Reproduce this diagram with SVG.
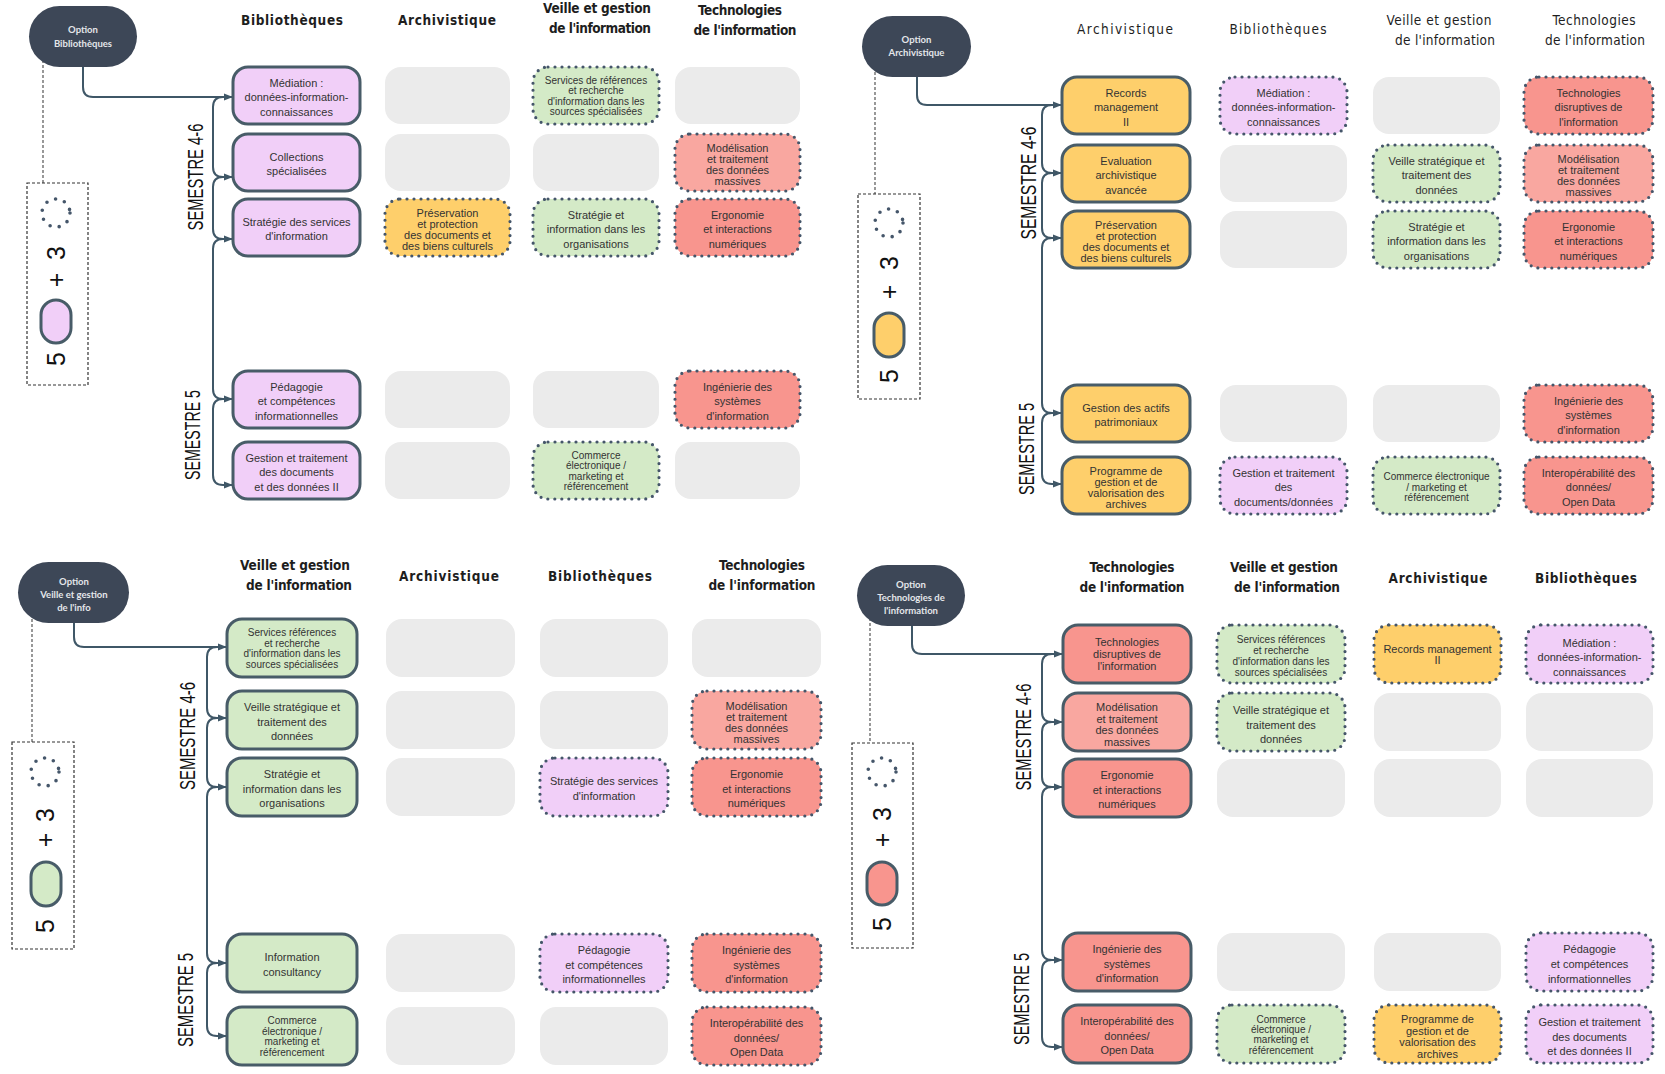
<svg xmlns="http://www.w3.org/2000/svg" width="1665" height="1074" viewBox="0 0 1665 1074">
<defs>
<marker id="ah" viewBox="0 0 10 10" refX="9" refY="5" markerWidth="9" markerHeight="9" markerUnits="userSpaceOnUse" orient="auto"><path d="M0,1 L10,5 L0,9 z" fill="#3f5767"/></marker>
<style>
.opt{fill:#3d4757}
.ot{font-family:Lato,'Open Sans',sans-serif;font-weight:700;font-size:9.5px;fill:#e4e6ea;text-anchor:middle}
.m{stroke:#485c68;stroke-width:3}
.d{stroke:#45566a;stroke-width:3.2;stroke-dasharray:0 7;stroke-linecap:round}
.e{fill:#ebebeb}
.pk{fill:#f1cff8}
.or{fill:#fecf6b}
.gr{fill:#d4eac7}
.rd{fill:#f8958e}
.rl{fill:#f9a7a0}
.t{font-family:'Liberation Sans',Arial,sans-serif;font-size:11px;fill:#333;text-anchor:middle}
.s{font-size:10px}
.h{font-family:'Liberation Sans Narrow','DejaVu Sans Condensed','Liberation Sans',sans-serif;font-size:13.5px;font-weight:700;fill:#1e1e1e;text-anchor:middle}
.hn{font-weight:400}
.sem{font-family:'Liberation Sans',Arial,sans-serif;font-size:22px;fill:#111;text-anchor:middle;dominant-baseline:central}
.lg{font-family:'Liberation Sans',Arial,sans-serif;font-size:25px;fill:#111;text-anchor:middle;dominant-baseline:central}
.lb{fill:none;stroke:#333;stroke-width:1.2;stroke-dasharray:3 2}
.dc{fill:none;stroke:#45566a;stroke-width:3.6;stroke-dasharray:0 9.3;stroke-linecap:round}
.cn{fill:none;stroke:#3f5767;stroke-width:2;marker-end:url(#ah)}
.dl{fill:none;stroke:#555;stroke-width:1.2;stroke-dasharray:3 2}
</style>
</defs>
<rect width="1665" height="1074" fill="#ffffff"/>

<!-- ================= Q1 : Option Bibliothèques ================= -->
<g id="q1-headers">
<text class="h" x="292" y="25" textLength="102" lengthAdjust="spacing">Bibliothèques</text>
<text class="h" x="447" y="25" textLength="98" lengthAdjust="spacing">Archivistique</text>
<text class="h" x="597" y="13" textLength="108" lengthAdjust="spacing">Veille et gestion</text>
<text class="h" x="600" y="33" textLength="102" lengthAdjust="spacing">de l'information</text>
<text class="h" x="740" y="14.5" textLength="84" lengthAdjust="spacing">Technologies</text>
<text class="h" x="745" y="35" textLength="103" lengthAdjust="spacing">de l'information</text>
</g>
<g id="q1-semesters">
<text class="sem" transform="translate(195,177) rotate(-90)" textLength="107" lengthAdjust="spacingAndGlyphs">SEMESTRE 4-6</text>
<text class="sem" transform="translate(192,435) rotate(-90)" textLength="90" lengthAdjust="spacingAndGlyphs">SEMESTRE 5</text>
</g>
<g id="q1-connectors">
<path class="dl" d="M43,60 V183"/>
<path class="cn" d="M83,67 V87 Q83,97 93,97 H232"/>
<path class="cn" d="M223,97 Q213,97 213,107 V167 Q213,177 223,177 H232"/>
<path class="cn" d="M223,177 Q213,177 213,187 V229 Q213,239 223,239 H232"/>
<path class="cn" d="M223,239 Q213,239 213,249 V389 Q213,399 223,399 H232"/>
<path class="cn" d="M223,399 Q213,399 213,409 V475 Q213,485 223,485 H232"/>
</g>
<g id="q1-option"><rect class="opt" x="29" y="6" width="108" height="61" rx="30.5"/><text class="ot"><tspan x="83" y="33">Option</tspan><tspan x="83" y="47">Bibliothèques</tspan></text></g>
<g id="q1-legend">
<rect class="lb" x="27" y="183" width="61" height="202"/>
<circle class="dc" cx="56" cy="213" r="14"/>
<text class="lg" transform="translate(56,253) rotate(-90)">3</text>
<text class="lg" transform="translate(56,280) rotate(-90)">+</text>
<rect class="pk m" x="41" y="300" width="30" height="43" rx="15"/>
<text class="lg" transform="translate(56,359) rotate(-90)">5</text>
</g>
<g id="q1-m1"><rect class="pk m" x="233" y="67" width="127" height="57" rx="15"/><text class="t"><tspan x="296.5" y="86.5">Médiation :</tspan><tspan x="296.5" y="101">données-information-</tspan><tspan x="296.5" y="115.5">connaissances</tspan></text></g>
<g id="q1-m2"><rect class="pk m" x="233" y="134" width="127" height="57" rx="15"/><text class="t"><tspan x="296.5" y="160.5">Collections</tspan><tspan x="296.5" y="175">spécialisées</tspan></text></g>
<g id="q1-m3"><rect class="pk m" x="233" y="199" width="127" height="57" rx="15"/><text class="t"><tspan x="296.5" y="225.5">Stratégie des services</tspan><tspan x="296.5" y="240">d'information</tspan></text></g>
<g id="q1-m4"><rect class="pk m" x="233" y="371" width="127" height="57" rx="15"/><text class="t"><tspan x="296.5" y="390.5">Pédagogie</tspan><tspan x="296.5" y="405">et compétences</tspan><tspan x="296.5" y="419.5">informationnelles</tspan></text></g>
<g id="q1-m5"><rect class="pk m" x="233" y="442" width="127" height="57" rx="15"/><text class="t"><tspan x="296.5" y="461.5">Gestion et traitement</tspan><tspan x="296.5" y="476">des documents</tspan><tspan x="296.5" y="490.5">et des données II</tspan></text></g>
<g id="q1-r1c2"><rect class="e" x="385" y="67" width="125" height="57" rx="16"/></g>
<g id="q1-r1c3"><rect class="gr d" x="533" y="67" width="126" height="57" rx="15"/><text class="t s"><tspan x="596" y="83.5">Services de références</tspan><tspan x="596" y="94">et recherche</tspan><tspan x="596" y="104.5">d'information dans les</tspan><tspan x="596" y="115">sources spécialisées</tspan></text></g>
<g id="q1-r1c4"><rect class="e" x="675" y="67" width="125" height="57" rx="16"/></g>
<g id="q1-r2c2"><rect class="e" x="385" y="134" width="125" height="57" rx="16"/></g>
<g id="q1-r2c3"><rect class="e" x="533" y="134" width="126" height="57" rx="16"/></g>
<g id="q1-r2c4"><rect class="rl d" x="675" y="134" width="125" height="57" rx="15"/><text class="t"><tspan x="737.5" y="151.5">Modélisation</tspan><tspan x="737.5" y="162.5">et traitement</tspan><tspan x="737.5" y="173.5">des données</tspan><tspan x="737.5" y="184.5">massives</tspan></text></g>
<g id="q1-r3c2"><rect class="or d" x="385" y="199" width="125" height="57" rx="15"/><text class="t"><tspan x="447.5" y="216.5">Préservation</tspan><tspan x="447.5" y="227.5">et protection</tspan><tspan x="447.5" y="238.5">des documents et</tspan><tspan x="447.5" y="249.5">des biens culturels</tspan></text></g>
<g id="q1-r3c3"><rect class="gr d" x="533" y="199" width="126" height="57" rx="15"/><text class="t"><tspan x="596" y="218.5">Stratégie et</tspan><tspan x="596" y="233">information dans les</tspan><tspan x="596" y="247.5">organisations</tspan></text></g>
<g id="q1-r3c4"><rect class="rd d" x="675" y="199" width="125" height="57" rx="15"/><text class="t"><tspan x="737.5" y="218.5">Ergonomie</tspan><tspan x="737.5" y="233">et interactions</tspan><tspan x="737.5" y="247.5">numériques</tspan></text></g>
<g id="q1-r4c2"><rect class="e" x="385" y="371" width="125" height="57" rx="16"/></g>
<g id="q1-r4c3"><rect class="e" x="533" y="371" width="126" height="57" rx="16"/></g>
<g id="q1-r4c4"><rect class="rd d" x="675" y="371" width="125" height="57" rx="15"/><text class="t"><tspan x="737.5" y="390.5">Ingénierie des</tspan><tspan x="737.5" y="405">systèmes</tspan><tspan x="737.5" y="419.5">d'information</tspan></text></g>
<g id="q1-r5c2"><rect class="e" x="385" y="442" width="125" height="57" rx="16"/></g>
<g id="q1-r5c3"><rect class="gr d" x="533" y="442" width="126" height="57" rx="15"/><text class="t s"><tspan x="596" y="458.5">Commerce</tspan><tspan x="596" y="469">électronique /</tspan><tspan x="596" y="479.5">marketing et</tspan><tspan x="596" y="490">référencement</tspan></text></g>
<g id="q1-r5c4"><rect class="e" x="675" y="442" width="125" height="57" rx="16"/></g>

<!-- ================= Q2 : Option Archivistique ================= -->
<g id="q2-headers">
<text class="h hn" x="1125" y="34" textLength="96" lengthAdjust="spacing">Archivistique</text>
<text class="h hn" x="1278" y="34" textLength="97" lengthAdjust="spacing">Bibliothèques</text>
<text class="h hn" x="1439" y="25" textLength="105" lengthAdjust="spacing">Veille et gestion</text>
<text class="h hn" x="1445" y="45" textLength="100" lengthAdjust="spacing">de l'information</text>
<text class="h hn" x="1594" y="25" textLength="83" lengthAdjust="spacing">Technologies</text>
<text class="h hn" x="1595" y="45" textLength="100" lengthAdjust="spacing">de l'information</text>
</g>
<g id="q2-semesters">
<text class="sem" transform="translate(1028,183) rotate(-90)" textLength="113" lengthAdjust="spacingAndGlyphs">SEMESTRE 4-6</text>
<text class="sem" transform="translate(1026,449) rotate(-90)" textLength="92" lengthAdjust="spacingAndGlyphs">SEMESTRE 5</text>
</g>
<g id="q2-connectors">
<path class="dl" d="M875,72 V194"/>
<path class="cn" d="M917,77 V95 Q917,105 927,105 H1061"/>
<path class="cn" d="M1052,105 Q1042,105 1042,115 V163 Q1042,173 1052,173 H1061"/>
<path class="cn" d="M1052,173 Q1042,173 1042,183 V228 Q1042,238 1052,238 H1061"/>
<path class="cn" d="M1052,238 Q1042,238 1042,248 V403 Q1042,413 1052,413 H1061"/>
<path class="cn" d="M1052,413 Q1042,413 1042,423 V474 Q1042,484 1052,484 H1061"/>
</g>
<g id="q2-option"><rect class="opt" x="862" y="16" width="109" height="61" rx="30.5"/><text class="ot"><tspan x="916.5" y="43">Option</tspan><tspan x="916.5" y="56">Archivistique</tspan></text></g>
<g id="q2-legend">
<rect class="lb" x="858" y="194" width="62" height="205"/>
<circle class="dc" cx="889" cy="223" r="14"/>
<text class="lg" transform="translate(889,263) rotate(-90)">3</text>
<text class="lg" transform="translate(889,292) rotate(-90)">+</text>
<rect class="or m" x="874" y="313" width="30" height="44" rx="15"/>
<text class="lg" transform="translate(889,376) rotate(-90)">5</text>
</g>
<g id="q2-m1"><rect class="or m" x="1062" y="77" width="128" height="57" rx="15"/><text class="t"><tspan x="1126" y="96.5">Records</tspan><tspan x="1126" y="111">management</tspan><tspan x="1126" y="125.5">II</tspan></text></g>
<g id="q2-m2"><rect class="or m" x="1062" y="145" width="128" height="57" rx="15"/><text class="t"><tspan x="1126" y="164.5">Evaluation</tspan><tspan x="1126" y="179">archivistique</tspan><tspan x="1126" y="193.5">avancée</tspan></text></g>
<g id="q2-m3"><rect class="or m" x="1062" y="211" width="128" height="57" rx="15"/><text class="t"><tspan x="1126" y="228.5">Préservation</tspan><tspan x="1126" y="239.5">et protection</tspan><tspan x="1126" y="250.5">des documents et</tspan><tspan x="1126" y="261.5">des biens culturels</tspan></text></g>
<g id="q2-m4"><rect class="or m" x="1062" y="385" width="128" height="57" rx="15"/><text class="t"><tspan x="1126" y="411.5">Gestion des actifs</tspan><tspan x="1126" y="426">patrimoniaux</tspan></text></g>
<g id="q2-m5"><rect class="or m" x="1062" y="457" width="128" height="57" rx="15"/><text class="t"><tspan x="1126" y="474.5">Programme de</tspan><tspan x="1126" y="485.5">gestion et de</tspan><tspan x="1126" y="496.5">valorisation des</tspan><tspan x="1126" y="507.5">archives</tspan></text></g>
<g id="q2-r1c2"><rect class="pk d" x="1220" y="77" width="127" height="57" rx="15"/><text class="t"><tspan x="1283.5" y="96.5">Médiation :</tspan><tspan x="1283.5" y="111">données-information-</tspan><tspan x="1283.5" y="125.5">connaissances</tspan></text></g>
<g id="q2-r1c3"><rect class="e" x="1373" y="77" width="127" height="57" rx="16"/></g>
<g id="q2-r1c4"><rect class="rd d" x="1524" y="77" width="129" height="57" rx="15"/><text class="t"><tspan x="1588.5" y="96.5">Technologies</tspan><tspan x="1588.5" y="111">disruptives de</tspan><tspan x="1588.5" y="125.5">l'information</tspan></text></g>
<g id="q2-r2c2"><rect class="e" x="1220" y="145" width="127" height="57" rx="16"/></g>
<g id="q2-r2c3"><rect class="gr d" x="1373" y="145" width="127" height="57" rx="15"/><text class="t"><tspan x="1436.5" y="164.5">Veille stratégique et</tspan><tspan x="1436.5" y="179">traitement des</tspan><tspan x="1436.5" y="193.5">données</tspan></text></g>
<g id="q2-r2c4"><rect class="rl d" x="1524" y="145" width="129" height="57" rx="15"/><text class="t"><tspan x="1588.5" y="162.5">Modélisation</tspan><tspan x="1588.5" y="173.5">et traitement</tspan><tspan x="1588.5" y="184.5">des données</tspan><tspan x="1588.5" y="195.5">massives</tspan></text></g>
<g id="q2-r3c2"><rect class="e" x="1220" y="211" width="127" height="57" rx="16"/></g>
<g id="q2-r3c3"><rect class="gr d" x="1373" y="211" width="127" height="57" rx="15"/><text class="t"><tspan x="1436.5" y="230.5">Stratégie et</tspan><tspan x="1436.5" y="245">information dans les</tspan><tspan x="1436.5" y="259.5">organisations</tspan></text></g>
<g id="q2-r3c4"><rect class="rd d" x="1524" y="211" width="129" height="57" rx="15"/><text class="t"><tspan x="1588.5" y="230.5">Ergonomie</tspan><tspan x="1588.5" y="245">et interactions</tspan><tspan x="1588.5" y="259.5">numériques</tspan></text></g>
<g id="q2-r4c2"><rect class="e" x="1220" y="385" width="127" height="57" rx="16"/></g>
<g id="q2-r4c3"><rect class="e" x="1373" y="385" width="127" height="57" rx="16"/></g>
<g id="q2-r4c4"><rect class="rd d" x="1524" y="385" width="129" height="57" rx="15"/><text class="t"><tspan x="1588.5" y="404.5">Ingénierie des</tspan><tspan x="1588.5" y="419">systèmes</tspan><tspan x="1588.5" y="433.5">d'information</tspan></text></g>
<g id="q2-r5c2"><rect class="pk d" x="1220" y="457" width="127" height="57" rx="15"/><text class="t"><tspan x="1283.5" y="476.5">Gestion et traitement</tspan><tspan x="1283.5" y="491">des</tspan><tspan x="1283.5" y="505.5">documents/données</tspan></text></g>
<g id="q2-r5c3"><rect class="gr d" x="1373" y="457" width="127" height="57" rx="15"/><text class="t s"><tspan x="1436.5" y="480">Commerce électronique</tspan><tspan x="1436.5" y="490.5">/ marketing et</tspan><tspan x="1436.5" y="501">référencement</tspan></text></g>
<g id="q2-r5c4"><rect class="rd d" x="1524" y="457" width="129" height="57" rx="15"/><text class="t"><tspan x="1588.5" y="476.5">Interopérabilité des</tspan><tspan x="1588.5" y="491">données/</tspan><tspan x="1588.5" y="505.5">Open Data</tspan></text></g>

<!-- ================= Q3 : Option Veille ================= -->
<g id="q3-headers">
<text class="h" x="295" y="570" textLength="110" lengthAdjust="spacing">Veille et gestion</text>
<text class="h" x="299" y="590" textLength="106" lengthAdjust="spacing">de l'information</text>
<text class="h" x="449" y="581" textLength="100" lengthAdjust="spacing">Archivistique</text>
<text class="h" x="600" y="581" textLength="104" lengthAdjust="spacing">Bibliothèques</text>
<text class="h" x="762" y="570" textLength="86" lengthAdjust="spacing">Technologies</text>
<text class="h" x="762" y="590" textLength="107" lengthAdjust="spacing">de l'information</text>
</g>
<g id="q3-semesters">
<text class="sem" transform="translate(187,736) rotate(-90)" textLength="108" lengthAdjust="spacingAndGlyphs">SEMESTRE 4-6</text>
<text class="sem" transform="translate(185,1000) rotate(-90)" textLength="94" lengthAdjust="spacingAndGlyphs">SEMESTRE 5</text>
</g>
<g id="q3-connectors">
<path class="dl" d="M32,614 V742"/>
<path class="cn" d="M74,623 V637 Q74,647 84,647 H226"/>
<path class="cn" d="M217,647 Q207,647 207,657 V708 Q207,718 217,718 H226"/>
<path class="cn" d="M217,718 Q207,718 207,728 V777 Q207,787 217,787 H226"/>
<path class="cn" d="M217,787 Q207,787 207,797 V953 Q207,963 217,963 H226"/>
<path class="cn" d="M217,963 Q207,963 207,973 V1026 Q207,1036 217,1036 H226"/>
</g>
<g id="q3-option"><rect class="opt" x="18" y="562" width="111" height="61" rx="30.5"/><text class="ot"><tspan x="74" y="585">Option</tspan><tspan x="74" y="598">Veille et gestion</tspan><tspan x="74" y="611">de l'info</tspan></text></g>
<g id="q3-legend">
<rect class="lb" x="12" y="742" width="62" height="207"/>
<circle class="dc" cx="45" cy="772" r="14"/>
<text class="lg" transform="translate(45,815) rotate(-90)">3</text>
<text class="lg" transform="translate(45,840) rotate(-90)">+</text>
<rect class="gr m" x="31" y="862" width="30" height="44" rx="15"/>
<text class="lg" transform="translate(45,926) rotate(-90)">5</text>
</g>
<g id="q3-m1"><rect class="gr m" x="227" y="619" width="130" height="58" rx="15"/><text class="t s"><tspan x="292" y="636">Services références</tspan><tspan x="292" y="646.5">et recherche</tspan><tspan x="292" y="657">d'information dans les</tspan><tspan x="292" y="667.5">sources spécialisées</tspan></text></g>
<g id="q3-m2"><rect class="gr m" x="227" y="691" width="130" height="58" rx="15"/><text class="t"><tspan x="292" y="711">Veille stratégique et</tspan><tspan x="292" y="725.5">traitement des</tspan><tspan x="292" y="740">données</tspan></text></g>
<g id="q3-m3"><rect class="gr m" x="227" y="758" width="130" height="58" rx="15"/><text class="t"><tspan x="292" y="778">Stratégie et</tspan><tspan x="292" y="792.5">information dans les</tspan><tspan x="292" y="807">organisations</tspan></text></g>
<g id="q3-m4"><rect class="gr m" x="227" y="934" width="130" height="58" rx="15"/><text class="t"><tspan x="292" y="961">Information</tspan><tspan x="292" y="975.5">consultancy</tspan></text></g>
<g id="q3-m5"><rect class="gr m" x="227" y="1007" width="130" height="58" rx="15"/><text class="t s"><tspan x="292" y="1024">Commerce</tspan><tspan x="292" y="1034.5">électronique /</tspan><tspan x="292" y="1045">marketing et</tspan><tspan x="292" y="1055.5">référencement</tspan></text></g>
<g id="q3-r1c2"><rect class="e" x="386" y="619" width="129" height="58" rx="16"/></g>
<g id="q3-r1c3"><rect class="e" x="540" y="619" width="128" height="58" rx="16"/></g>
<g id="q3-r1c4"><rect class="e" x="692" y="619" width="129" height="58" rx="16"/></g>
<g id="q3-r2c2"><rect class="e" x="386" y="691" width="129" height="58" rx="16"/></g>
<g id="q3-r2c3"><rect class="e" x="540" y="691" width="128" height="58" rx="16"/></g>
<g id="q3-r2c4"><rect class="rl d" x="692" y="691" width="129" height="58" rx="15"/><text class="t"><tspan x="756.5" y="710">Modélisation</tspan><tspan x="756.5" y="721">et traitement</tspan><tspan x="756.5" y="732">des données</tspan><tspan x="756.5" y="743">massives</tspan></text></g>
<g id="q3-r3c2"><rect class="e" x="386" y="758" width="129" height="58" rx="16"/></g>
<g id="q3-r3c3"><rect class="pk d" x="540" y="758" width="128" height="58" rx="15"/><text class="t"><tspan x="604" y="785">Stratégie des services</tspan><tspan x="604" y="799.5">d'information</tspan></text></g>
<g id="q3-r3c4"><rect class="rd d" x="692" y="758" width="129" height="58" rx="15"/><text class="t"><tspan x="756.5" y="778">Ergonomie</tspan><tspan x="756.5" y="792.5">et interactions</tspan><tspan x="756.5" y="807">numériques</tspan></text></g>
<g id="q3-r4c2"><rect class="e" x="386" y="934" width="129" height="58" rx="16"/></g>
<g id="q3-r4c3"><rect class="pk d" x="540" y="934" width="128" height="58" rx="15"/><text class="t"><tspan x="604" y="954">Pédagogie</tspan><tspan x="604" y="968.5">et compétences</tspan><tspan x="604" y="983">informationnelles</tspan></text></g>
<g id="q3-r4c4"><rect class="rd d" x="692" y="934" width="129" height="58" rx="15"/><text class="t"><tspan x="756.5" y="954">Ingénierie des</tspan><tspan x="756.5" y="968.5">systèmes</tspan><tspan x="756.5" y="983">d'information</tspan></text></g>
<g id="q3-r5c2"><rect class="e" x="386" y="1007" width="129" height="58" rx="16"/></g>
<g id="q3-r5c3"><rect class="e" x="540" y="1007" width="128" height="58" rx="16"/></g>
<g id="q3-r5c4"><rect class="rd d" x="692" y="1007" width="129" height="58" rx="15"/><text class="t"><tspan x="756.5" y="1027">Interopérabilité des</tspan><tspan x="756.5" y="1041.5">données/</tspan><tspan x="756.5" y="1056">Open Data</tspan></text></g>

<!-- ================= Q4 : Option Technologies ================= -->
<g id="q4-headers">
<text class="h" x="1132" y="572" textLength="85" lengthAdjust="spacing">Technologies</text>
<text class="h" x="1132" y="592" textLength="105" lengthAdjust="spacing">de l'information</text>
<text class="h" x="1284" y="572" textLength="108" lengthAdjust="spacing">Veille et gestion</text>
<text class="h" x="1287" y="592" textLength="106" lengthAdjust="spacing">de l'information</text>
<text class="h" x="1438" y="583" textLength="99" lengthAdjust="spacing">Archivistique</text>
<text class="h" x="1586" y="583" textLength="102" lengthAdjust="spacing">Bibliothèques</text>
</g>
<g id="q4-semesters">
<text class="sem" transform="translate(1023,737) rotate(-90)" textLength="107" lengthAdjust="spacingAndGlyphs">SEMESTRE 4-6</text>
<text class="sem" transform="translate(1021,999) rotate(-90)" textLength="92" lengthAdjust="spacingAndGlyphs">SEMESTRE 5</text>
</g>
<g id="q4-connectors">
<path class="dl" d="M870,618 V743"/>
<path class="cn" d="M912,626 V644 Q912,654 922,654 H1062"/>
<path class="cn" d="M1052,654 Q1042,654 1042,664 V712 Q1042,722 1052,722 H1062"/>
<path class="cn" d="M1052,722 Q1042,722 1042,732 V777 Q1042,787 1052,787 H1062"/>
<path class="cn" d="M1052,787 Q1042,787 1042,797 V950 Q1042,960 1052,960 H1062"/>
<path class="cn" d="M1052,960 Q1042,960 1042,970 V1037 Q1042,1047 1052,1047 H1062"/>
</g>
<g id="q4-option"><rect class="opt" x="857" y="565" width="108" height="61" rx="30.5"/><text class="ot"><tspan x="911" y="588">Option</tspan><tspan x="911" y="601">Technologies de</tspan><tspan x="911" y="614">l'information</tspan></text></g>
<g id="q4-legend">
<rect class="lb" x="852" y="743" width="61" height="205"/>
<circle class="dc" cx="882" cy="772" r="14"/>
<text class="lg" transform="translate(882,814) rotate(-90)">3</text>
<text class="lg" transform="translate(882,840) rotate(-90)">+</text>
<rect class="rd m" x="867" y="862" width="30" height="43" rx="15"/>
<text class="lg" transform="translate(882,924) rotate(-90)">5</text>
</g>
<g id="q4-m1"><rect class="rd m" x="1063" y="625" width="128" height="58" rx="15"/><text class="t"><tspan x="1127" y="646">Technologies</tspan><tspan x="1127" y="658">disruptives de</tspan><tspan x="1127" y="670">l'information</tspan></text></g>
<g id="q4-m2"><rect class="rl m" x="1063" y="693" width="128" height="58" rx="15"/><text class="t"><tspan x="1127" y="711">Modélisation</tspan><tspan x="1127" y="722.5">et traitement</tspan><tspan x="1127" y="734">des données</tspan><tspan x="1127" y="745.5">massives</tspan></text></g>
<g id="q4-m3"><rect class="rd m" x="1063" y="759" width="128" height="58" rx="15"/><text class="t"><tspan x="1127" y="779">Ergonomie</tspan><tspan x="1127" y="793.5">et interactions</tspan><tspan x="1127" y="808">numériques</tspan></text></g>
<g id="q4-m4"><rect class="rd m" x="1063" y="933" width="128" height="58" rx="15"/><text class="t"><tspan x="1127" y="953">Ingénierie des</tspan><tspan x="1127" y="967.5">systèmes</tspan><tspan x="1127" y="982">d'information</tspan></text></g>
<g id="q4-m5"><rect class="rd m" x="1063" y="1005" width="128" height="58" rx="15"/><text class="t"><tspan x="1127" y="1025">Interopérabilité des</tspan><tspan x="1127" y="1039.5">données/</tspan><tspan x="1127" y="1054">Open Data</tspan></text></g>
<g id="q4-r1c2"><rect class="gr d" x="1217" y="625" width="128" height="58" rx="15"/><text class="t s"><tspan x="1281" y="643">Services références</tspan><tspan x="1281" y="654">et recherche</tspan><tspan x="1281" y="665">d'information dans les</tspan><tspan x="1281" y="676">sources spécialisées</tspan></text></g>
<g id="q4-r1c3"><rect class="or d" x="1374" y="625" width="127" height="58" rx="15"/><text class="t"><tspan x="1437.5" y="653">Records management</tspan><tspan x="1437.5" y="664">II</tspan></text></g>
<g id="q4-r1c4"><rect class="pk d" x="1526" y="625" width="127" height="58" rx="15"/><text class="t"><tspan x="1589.5" y="646.5">Médiation :</tspan><tspan x="1589.5" y="661">données-information-</tspan><tspan x="1589.5" y="675.5">connaissances</tspan></text></g>
<g id="q4-r2c2"><rect class="gr d" x="1217" y="693" width="128" height="58" rx="15"/><text class="t"><tspan x="1281" y="714">Veille stratégique et</tspan><tspan x="1281" y="728.5">traitement des</tspan><tspan x="1281" y="743">données</tspan></text></g>
<g id="q4-r2c3"><rect class="e" x="1374" y="693" width="127" height="58" rx="16"/></g>
<g id="q4-r2c4"><rect class="e" x="1526" y="693" width="127" height="58" rx="16"/></g>
<g id="q4-r3c2"><rect class="e" x="1217" y="759" width="128" height="58" rx="16"/></g>
<g id="q4-r3c3"><rect class="e" x="1374" y="759" width="127" height="58" rx="16"/></g>
<g id="q4-r3c4"><rect class="e" x="1526" y="759" width="127" height="58" rx="16"/></g>
<g id="q4-r4c2"><rect class="e" x="1217" y="933" width="128" height="58" rx="16"/></g>
<g id="q4-r4c3"><rect class="e" x="1374" y="933" width="127" height="58" rx="16"/></g>
<g id="q4-r4c4"><rect class="pk d" x="1526" y="933" width="127" height="58" rx="15"/><text class="t"><tspan x="1589.5" y="953">Pédagogie</tspan><tspan x="1589.5" y="968">et compétences</tspan><tspan x="1589.5" y="983">informationnelles</tspan></text></g>
<g id="q4-r5c2"><rect class="gr d" x="1217" y="1005" width="128" height="58" rx="15"/><text class="t s"><tspan x="1281" y="1023">Commerce</tspan><tspan x="1281" y="1033">électronique /</tspan><tspan x="1281" y="1043">marketing et</tspan><tspan x="1281" y="1053.5">référencement</tspan></text></g>
<g id="q4-r5c3"><rect class="or d" x="1374" y="1005" width="127" height="58" rx="15"/><text class="t"><tspan x="1437.5" y="1023">Programme de</tspan><tspan x="1437.5" y="1034.5">gestion et de</tspan><tspan x="1437.5" y="1046">valorisation des</tspan><tspan x="1437.5" y="1057.5">archives</tspan></text></g>
<g id="q4-r5c4"><rect class="pk d" x="1526" y="1005" width="127" height="58" rx="15"/><text class="t"><tspan x="1589.5" y="1026">Gestion et traitement</tspan><tspan x="1589.5" y="1040.5">des documents</tspan><tspan x="1589.5" y="1055">et des données II</tspan></text></g>
</svg>
